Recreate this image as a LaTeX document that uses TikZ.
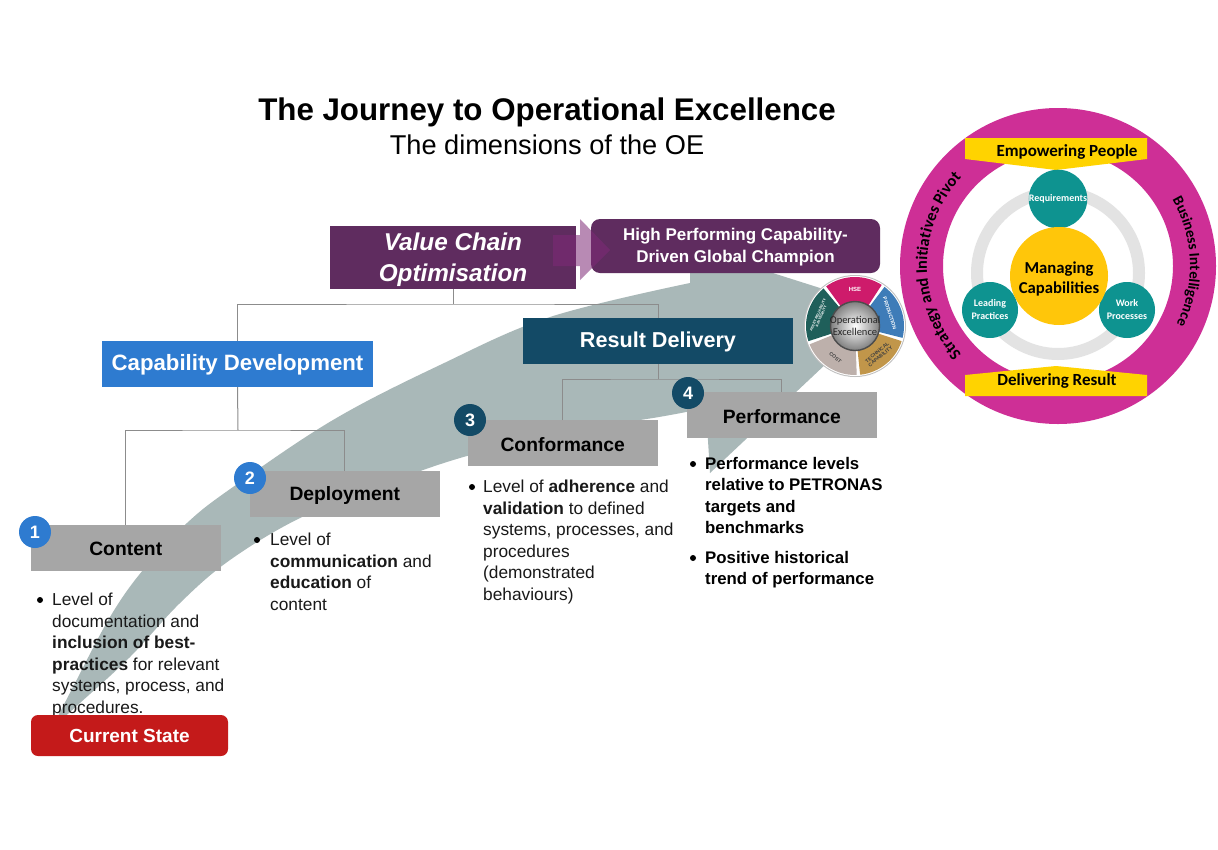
\documentclass[tikz,border=0pt]{standalone}
\usepackage{fontspec}
\setmainfont{Liberation Sans}
\newfontfamily\calib{Carlito}
\usetikzlibrary{decorations.text}
\definecolor{arrowgrey}{HTML}{A9B8B8}
\definecolor{plum}{HTML}{5F2C5F}
\definecolor{plumglow}{HTML}{7F2A78}
\definecolor{capblue}{HTML}{2E7BD0}
\definecolor{navy}{HTML}{134A66}
\definecolor{boxgrey}{HTML}{A6A6A6}
\definecolor{linegrey}{HTML}{8C8C8C}
\definecolor{redstate}{HTML}{C41A1A}
\definecolor{ringmag}{HTML}{CE2F96}
\definecolor{banner}{HTML}{FFD300}
\definecolor{coreyel}{HTML}{FFC60A}
\definecolor{tealc}{HTML}{0E9390}
\definecolor{ringgrey}{HTML}{E3E3E3}
\definecolor{oepink}{HTML}{CE1B6B}
\definecolor{oeblue}{HTML}{3E7CB8}
\definecolor{oegold}{HTML}{C1964A}
\definecolor{oecost}{HTML}{BDB0AB}
\definecolor{oegreen}{HTML}{1F5F5A}
\newcommand{\fs}[1]{\fontsize{#1}{#1}\selectfont}
\newcommand{\oeseg}[3]{\fill[#3] (#1:49pt) arc[start angle=#1,end angle=#2,radius=49pt] -- (#2:24pt) arc[start angle=#2,end angle=#1,radius=24pt] -- cycle;}
\tikzset{
  x=1pt,y=-1pt,
  flat/.style={anchor=north west,inner sep=0pt,outer sep=0pt,align=center},
  greybox/.style={flat,fill=boxgrey,minimum width=189.5pt,minimum height=45.5pt,font=\fs{19.3}\bfseries,text=black},
  wire/.style={draw=linegrey,line width=1pt},
  badge/.style={circle,inner sep=0pt,minimum size=32pt,text=white,font=\fs{18}\bfseries},
  para/.style={anchor=north west,inner sep=0pt,align=left,font=\fontsize{17.3}{21.5}\selectfont,text=black!90},
  parab/.style={anchor=north west,inner sep=0pt,align=left,font=\fontsize{16.8}{21.5}\selectfont\bfseries,text=black},
  dot/.style={circle,fill=black,inner sep=0pt,minimum size=6pt},
  smallc/.style={circle,fill=tealc,inner sep=0pt,minimum size=56pt,text=white,font=\calib\fs{10}\bfseries,align=center},
  bannertext/.style={inner sep=0pt,font=\calib\fs{17}\bfseries,text=black},
  oelabel/.style={inner sep=0pt,align=center,font=\fs{5}\bfseries},
}
\begin{document}
\begin{tikzpicture}
\useasboundingbox (0,0) rectangle (1218,849);
\fill[white] (0,0) rectangle (1218,849);

% sweeping arrow
\fill[arrowgrey] plot[smooth,tension=.6] coordinates {(52,728) (73,687) (110,617) (143,570) (187,523) (233,487) (333,420) (440,365) (550,317) (690,283)}
  -- (690,268) -- (757,268) -- (820,288) -- (862,330) -- (710,473) -- (706,408)
  -- plot[smooth,tension=.6] coordinates {(706,408) (659,417) (560,433) (460,458) (380,486) (300,518) (230,560) (180,603) (130,657) (80,703) (52,728)} -- cycle;

% title
\node[inner sep=0pt,font=\fs{31.3}\bfseries] (title) at (547,112.5) {The Journey to Operational Excellence};
\node[inner sep=0pt,font=\fs{27.2}] (subtitle) at (547,145) {The dimensions of the OE};

% top boxes
\node[flat,fill=plum,minimum width=246pt,minimum height=63pt,text=white,font=\fs{24.3}\bfseries\itshape] (value) at (330,226) {\rule{0pt}{22pt}Value Chain\\[7pt]Optimisation};
\node[flat,fill=plum,rounded corners=9pt,minimum width=289pt,minimum height=54pt,text=white,font=\fs{17}\bfseries] (high) at (591,219) {\rule{0pt}{14pt}High Performing Capability-\\[5pt]Driven Global Champion};
\fill[plumglow,opacity=.55] (553,235) -- (580,235) -- (580,219) -- (610,250) -- (580,280) -- (580,266) -- (553,266) -- cycle;

% second tier
\node[flat,fill=capblue,minimum width=271pt,minimum height=46pt,text=white,font=\fs{22.2}\bfseries] (cap) at (102,341) {\rule{0pt}{18pt}Capability Development};
\node[flat,fill=navy,minimum width=270pt,minimum height=46pt,text=white,font=\fs{21.6}\bfseries] (res) at (523,318) {\rule{0pt}{18pt}Result Delivery};

% third tier
\node[greybox] (content) at (31,525) {\rule{0pt}{15pt}Content};
\node[greybox] (deploy) at (250,471) {\rule{0pt}{17pt}Deployment};
\node[greybox] (conf) at (468,420) {\rule{0pt}{17pt}Conformance};
\node[greybox] (perf) at (687,392) {\rule{0pt}{17pt}Performance};

% connectors
\coordinate (j1) at (453,304);
\coordinate (j2) at (238,430);
\coordinate (j3) at (658,379);
\draw[wire] (value.south) -- (j1);
\draw[wire] (cap.north) |- (j1) -| (res.north);
\draw[wire] (cap.south) -- (j2);
\draw[wire] (content.north) |- (j2) -| (deploy.north);
\draw[wire] (res.south) -- (j3);
\draw[wire] (conf.north) |- (j3) -| (perf.north);

% badges
\node[badge,fill=capblue] (b1) at (35,532) {1};
\node[badge,fill=capblue] (b2) at (250,478) {2};
\node[badge,fill=navy] (b3) at (470,420) {3};
\node[badge,fill=navy] (b4) at (688,393) {4};

% body text
\node[dot] (d1) at (40,600) {};
\node[para] (t1) at (52,593) {Level of\\documentation and\\\textbf{inclusion of best-}\\\textbf{practices} for relevant\\systems, process, and\\procedures.};
\node[dot] (d2) at (257,540) {};
\node[para] (t2) at (270,533) {Level of\\\textbf{communication} and\\\textbf{education} of\\content};
\node[dot] (d3) at (472,487) {};
\node[para] (t3) at (483,480) {Level of \textbf{adherence} and\\\textbf{validation} to defined\\systems, processes, and\\procedures\\(demonstrated\\behaviours)};
\node[dot] (d4) at (693,464) {};
\node[parab] (t4) at (705,457) {Performance levels\\relative to PETRONAS\\targets and\\benchmarks};
\node[dot] (d5) at (693,558) {};
\node[parab] (t5) at (705,551) {Positive historical\\trend of performance};

% current state
\node[flat,fill=redstate,rounded corners=7pt,minimum width=197pt,minimum height=41pt,text=white,font=\fs{19}\bfseries] (state) at (31,715) {Current State};

% Operational Excellence wheel
\begin{scope}[shift={(855,326)},y=1pt]
  \fill[black!25] (0,0) circle[radius=51pt];
  \fill[white] (0,0) circle[radius=50pt];
  \oeseg{57}{126}{oepink}
  \oeseg{-14}{53}{oeblue}
  \oeseg{-84}{-18}{oegold}
  \oeseg{-158}{-88}{oecost}
  \oeseg{130}{198}{oegreen}
  \shade[inner color=white,outer color=black!50,draw=black!70,line width=1.4pt] (0,0) circle[radius=24.5pt];
  \node[inner sep=0pt,align=center,font=\calib\fs{10.5},text=black!85] (oe) at (0,0) {Operational\\[1pt]Excellence};
  \node[oelabel,text=white,font=\fs{6}\bfseries] (oe1) at (90:37pt) {HSE};
  \node[oelabel,text=white,rotate=-72] (oe2) at (20:37pt) {PRODUCTION};
  \node[oelabel,text=black!75,rotate=40] (oe3) at (-50:37pt) {TECHNICAL\\CAPABILITY};
  \node[oelabel,text=black!75,rotate=-40] (oe4) at (-122:37pt) {COST};
  \node[oelabel,text=white,rotate=66,font=\fs{3.6}\bfseries] (oe5) at (164:37pt) {ASSET RELIABILITY\\\& INTEGRITY};
\end{scope}

% right ring
\begin{scope}[shift={(1058,266)},y=1pt]
  \fill[ringmag,even odd rule] (0,0) circle[radius=158pt] (0,0) circle[radius=115pt];
  \path[postaction={decorate},decoration={text along path,text align=center,text color=black,
     text={|\calib\fs{16.3}\bfseries|Strategy and Initiatives Pivot}}]
     (228:131pt) arc[start angle=228,end angle=132,radius=131pt];
  \path[postaction={decorate},decoration={text along path,text align=center,text color=black,
     text={|\calib\fs{15}\bfseries|Business Intelligence}}]
     (42:132pt) arc[start angle=42,end angle=-38,radius=132pt];
\end{scope}
\fill[banner] (965,138) -- (1147,138) -- (1147,159) -- (1056,170) -- (965,159) -- cycle;
\fill[banner] (965,375) -- (1056,366) -- (1147,375) -- (1147,396) -- (965,396) -- cycle;
\node[bannertext] (emp) at (1067,152) {Empowering People};
\node[bannertext] (del) at (1057,381) {Delivering Result};
\draw[ringgrey,line width=12pt] (1058,273) circle[radius=81pt];
\node[smallc] (req) at (1058,199) {Requirements};
\node[smallc] (lead) at (990,310) {Leading\\[3pt]Practices};
\node[smallc] (work) at (1127,310) {Work\\[3pt]Processes};
\node[circle,fill=coreyel,inner sep=0pt,minimum size=98pt,align=center,font=\calib\fs{16.7}\bfseries] (core) at (1059,276) {\rule{0pt}{17pt}Managing\\[3pt]Capabilities};
\end{tikzpicture}
\end{document}
